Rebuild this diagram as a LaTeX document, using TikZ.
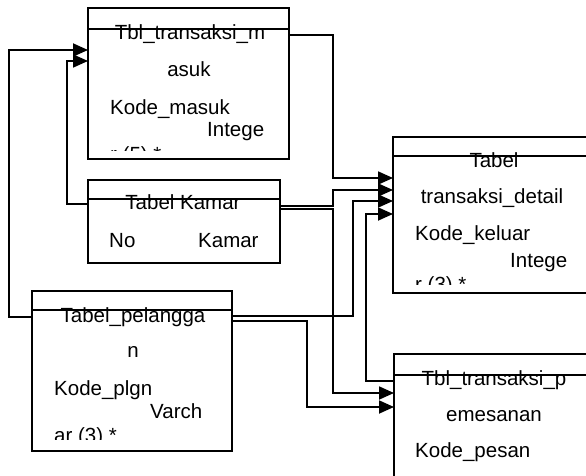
\documentclass[tikz,border=0pt]{standalone}
\usepackage{fontspec}
\setmainfont{Liberation Sans}
\usetikzlibrary{arrows.meta}
\tikzset{
  tabel/.style={draw,line width=1.8pt,inner sep=0pt,outer sep=0pt,anchor=north west},
  isi/.style={inner sep=0pt,anchor=base west,font=\fontsize{20.5}{24}\selectfont},
  judul/.style={isi,anchor=base},
  rel/.style={line width=1.8pt},
  panah/.style={rel,-{Triangle[length=15pt,width=13pt]}}
}
\begin{document}
\begin{tikzpicture}[x=1pt,y=-1pt]
\clip (0,0) rectangle (586,476);
\fill[white] (0,0) rectangle (586,476);
% tabel
\node[tabel,minimum width=201pt,minimum height=151pt] (masuk) at (88,8) {};
\node[tabel,minimum width=192pt,minimum height=83pt] (kamar) at (88,180) {};
\node[tabel,minimum width=200pt,minimum height=160pt] (plgn) at (32,291) {};
\node[tabel,minimum width=202pt,minimum height=156pt] (detail) at (393,137) {};
\node[tabel,minimum width=202pt,minimum height=140pt] (pesan) at (394,354) {};
% garis judul
\draw[rel] ([yshift=-21pt]masuk.north west)--([yshift=-21pt]masuk.north east);
\draw[rel] ([yshift=-19pt]kamar.north west)--([yshift=-19pt]kamar.north east);
\draw[rel] ([yshift=-19pt]plgn.north west)--([yshift=-19pt]plgn.north east);
\draw[rel] ([yshift=-19pt]detail.north west)--([yshift=-19pt]detail.north east);
\draw[rel] ([yshift=-21pt]pesan.north west)--([yshift=-21pt]pesan.north east);
% isi tabel
\begin{scope}
\clip (masuk.north west) rectangle ([yshift=9pt]masuk.south east);
\node[judul] (tm1) at (190,40) {Tbl\_transaksi\_m};
\node[judul] (tm2) at (189,77) {asuk};
\node[isi] (tm3) at (110,114) {Kode\_masuk};
\node[isi] (tm4) at (207,137) {Intege};
\node[isi] (tm5) at (110,161) {r (5) *};
\end{scope}
\node[judul] (tk1) at (183,209) {Tabel Kamar};
\node[isi] (tk2) at (109,247) {No};
\node[isi] (tk3) at (198,247) {Kamar};
\begin{scope}
\clip (plgn.north west) rectangle ([yshift=12pt]plgn.south east);
\node[judul] (tp1) at (133,322) {Tabel\_pelangga};
\node[judul] (tp2) at (133,357) {n};
\node[isi] (tp3) at (54,395) {Kode\_plgn};
\node[isi] (tp4) at (150,418) {Varch};
\node[isi] (tp5) at (54,442) {ar (3) *};
\end{scope}
\begin{scope}
\clip (detail.north west) rectangle ([yshift=9pt]detail.south east);
\node[judul] (td1) at (494,167) {Tabel};
\node[judul] (td2) at (492,203) {transaksi\_detail};
\node[isi] (td3) at (415,240) {Kode\_keluar};
\node[isi] (td4) at (510,267) {Intege};
\node[isi] (td5) at (415,291) {r (3) *};
\end{scope}
\node[judul] (te1) at (494,385) {Tbl\_transaksi\_p};
\node[judul] (te2) at (494,421) {emesanan};
\node[isi] (te3) at (415,457) {Kode\_pesan};
% relasi
\draw[panah] ([yshift=-26pt]plgn.north west) -- ++(-23,0) |- ([yshift=-42pt]masuk.north west);
\draw[panah] ([yshift=-24pt]kamar.north west) -- ++(-21,0) |- ([yshift=-53pt]masuk.north west);
\draw[panah] ([yshift=-27pt]masuk.north east) -- ++(44,0) |- ([yshift=-41pt]detail.north west);
\draw[panah] ([yshift=-26pt]kamar.north east) -- ++(53,0) |- ([yshift=-53pt]detail.north west);
\draw[panah] ([yshift=-29pt]kamar.north east) -- ++(53,0) |- ([yshift=-39pt]pesan.north west);
\draw[panah] ([yshift=-25pt]plgn.north east) -- ++(121,0) |- ([yshift=-64pt]detail.north west);
\draw[panah] ([yshift=-30pt]plgn.north east) -- ++(75,0) |- ([yshift=-53pt]pesan.north west);
\draw[panah] ([yshift=-27pt]pesan.north west) -- ++(-28,0) |- ([yshift=-77pt]detail.north west);
\end{tikzpicture}
\end{document}
